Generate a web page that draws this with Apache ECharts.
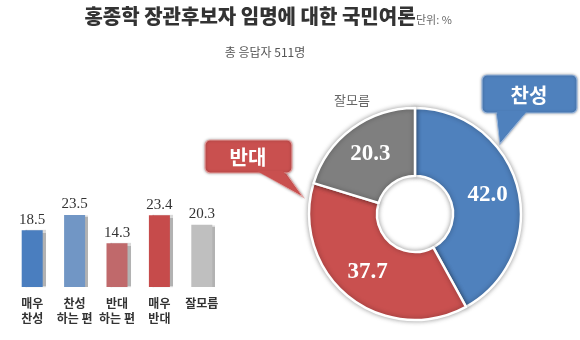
<!DOCTYPE html>
<html><head><meta charset="utf-8">
<script src="https://cdn.jsdelivr.net/npm/echarts@6/dist/echarts.min.js"></script>
<style>html,body{margin:0;padding:0;background:#fff}#c{width:580px;height:340px}</style>
</head><body><div id="c"></div>
<script>
const titleText = '홍종학 장관후보자 임명에 대한 국민여론';
const unitText = '단위: %';
const subText = '총 응답자 511명';
const barCategories = ['매우\n찬성', '찬성\n하는 편', '반대\n하는 편', '매우\n반대', '잘모름'];
const barValues = [18.5, 23.5, 14.3, 23.4, 20.3];
const barColors = ['#4a7ebf', '#7196c5', '#c0696b', '#c64b4b', '#bfbfbf'];
const pieNames = ['찬성', '반대', '잘모름'];
const pieValues = [42.0, 37.7, 20.3];
const pieColors = ['#4f81bd', '#c9504f', '#7f7f7f'];

const kr = '"Noto Sans CJK KR", sans-serif';
const serif = '"Liberation Serif", "DejaVu Serif", serif';

const chart = echarts.init(document.getElementById('c'), null, {renderer: 'canvas'});
chart.setOption({
  animation: false,
  backgroundColor: '#fff',
  title: [
    {text: titleText, left: 245, top: 1, textAlign: 'center',
     textStyle: {fontFamily: kr, fontSize: 20, fontWeight: 900, color: '#333'}},
    {text: unitText, left: 411, top: 9,
     textStyle: {fontFamily: kr, fontSize: 11, fontWeight: 'normal', color: '#666'}},
    {text: subText, left: 260, top: 41, textAlign: 'center',
     textStyle: {fontFamily: kr, fontSize: 12, fontWeight: 'normal', color: '#555'}}
  ],
  grid: {left: 11, right: 357, top: 195, bottom: 53, containLabel: false},
  xAxis: {type: 'category', data: barCategories,
    axisLine: {show: false}, axisTick: {show: false},
    axisLabel: {margin: 9, fontFamily: kr, fontSize: 12, fontWeight: 'bold', color: '#333', lineHeight: 15, interval: 0}},
  yAxis: {type: 'value', min: 0, max: 30, show: false, splitLine: {show: false}},
  series: [
    {type: 'bar', barWidth: 21,
     data: barValues.map((v, i) => ({value: v, itemStyle: {color: barColors[i]}})),
     itemStyle: {shadowColor: 'rgba(0,0,0,0.3)', shadowOffsetX: 3, shadowOffsetY: 0, shadowBlur: 1},
     label: {show: true, position: 'top', distance: 3, fontFamily: serif, fontSize: 15, color: '#333',
       formatter: p => p.value.toFixed(1)}},
    {type: 'pie', center: [415, 214], radius: [38, 106], startAngle: 90, clockwise: true,
     data: pieValues.map((v, i) => ({value: v, name: pieNames[i], itemStyle: {color: pieColors[i]}})),
     itemStyle: {borderColor: '#fff', borderWidth: 2.5, shadowColor: 'rgba(0,0,0,0.35)', shadowBlur: 5},
     label: {show: true, position: 'inside', fontFamily: serif, fontSize: 23, fontWeight: 'bold', color: '#fff',
       formatter: p => p.value.toFixed(1)},
     labelLine: {show: false}, emphasis: {disabled: true}}
  ],
  graphic: [
    {type: 'text', left: 334, top: 94, style: {text: pieNames[2], font: '13px ' + kr, fill: '#666'}},
    {type: 'group', z: 100, children: [
      {type: 'polygon', shape: {points: [[496, 110], [528, 110], [500, 144]]},
       style: {fill: '#4f81bd', stroke: '#9bb7dc', lineWidth: 1.2, shadowBlur: 3, shadowColor: 'rgba(0,0,0,0.3)'}},
      {type: 'rect', shape: {x: 482, y: 75, width: 95, height: 38, r: 5},
       style: {fill: '#4f81bd', stroke: '#9bb7dc', lineWidth: 1.2, shadowBlur: 3, shadowColor: 'rgba(0,0,0,0.3)'}},
      {type: 'polygon', shape: {points: [[497, 111], [527, 111], [500, 142]]}, style: {fill: '#4f81bd'}},
      {type: 'text', x: 529, y: 95, style: {text: pieNames[0], font: 'bold 20px ' + kr, fill: '#fff', align: 'center', verticalAlign: 'middle'}}
    ]},
    {type: 'group', z: 100, children: [
      {type: 'polygon', shape: {points: [[256, 170], [284, 170], [303, 197]]},
       style: {fill: '#c9504f', stroke: '#e3a3a2', lineWidth: 1.2, shadowBlur: 3, shadowColor: 'rgba(0,0,0,0.3)'}},
      {type: 'rect', shape: {x: 205, y: 140, width: 87, height: 33, r: 5},
       style: {fill: '#c9504f', stroke: '#e3a3a2', lineWidth: 1.2, shadowBlur: 3, shadowColor: 'rgba(0,0,0,0.3)'}},
      {type: 'polygon', shape: {points: [[257, 171], [283, 171], [301, 195]]}, style: {fill: '#c9504f'}},
      {type: 'text', x: 248, y: 157, style: {text: pieNames[1], font: 'bold 20px ' + kr, fill: '#fff', align: 'center', verticalAlign: 'middle'}}
    ]}
  ]
});
</script></body></html>
